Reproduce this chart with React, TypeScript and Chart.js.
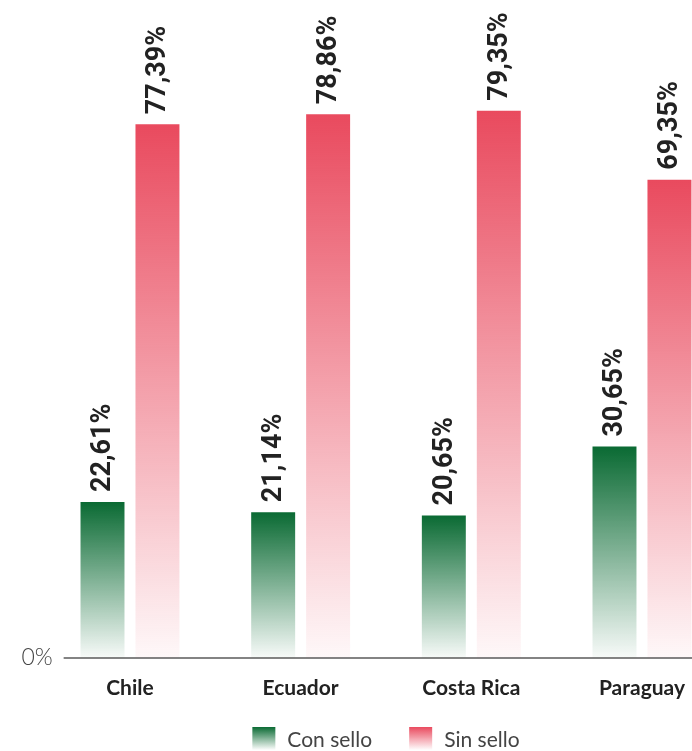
import React, { useEffect, useRef } from "react";
import { Chart, registerables } from "chart.js";

Chart.register(...registerables);

const categories = ["Chile", "Ecuador", "Costa Rica", "Paraguay"];
const conSello = [22.61, 21.14, 20.65, 30.65];
const sinSello = [77.39, 78.86, 79.35, 69.35];
const seriesLabels = ["Con sello", "Sin sello"];
const yTickLabel = "0%";

const GREEN_TOP = "#0a6a33";
const GREEN_BOTTOM = "rgba(10,106,51,0.03)";
const RED_TOP = "#e94a5e";
const RED_BOTTOM = "rgba(233,74,94,0.04)";

const fmt = (v: number) => v.toFixed(2).replace(".", ",") + "%";

function barGradient(top: string, bottom: string) {
  return (ctx: any) => {
    const chart = ctx.chart;
    const y = chart.scales && chart.scales.y;
    if (!y || ctx.raw == null) return top;
    const yTop = y.getPixelForValue(ctx.raw);
    const yBot = y.getPixelForValue(0);
    if (!isFinite(yTop) || !isFinite(yBot)) return top;
    const g = chart.ctx.createLinearGradient(0, yTop, 0, yBot);
    g.addColorStop(0, top);
    g.addColorStop(1, bottom);
    return g;
  };
}

const valueLabelPlugin = {
  id: "valueLabels",
  afterDatasetsDraw(chart: any) {
    const ctx = chart.ctx;
    ctx.save();
    ctx.font = "bold 27px Roboto";
    ctx.fillStyle = "#222";
    ctx.textAlign = "left";
    ctx.textBaseline = "middle";
    chart.data.datasets.forEach((ds: any, di: number) => {
      const meta = chart.getDatasetMeta(di);
      meta.data.forEach((bar: any, i: number) => {
        ctx.save();
        ctx.translate(bar.x, bar.y - 10);
        ctx.rotate(-Math.PI / 2);
        ctx.fillText(fmt(ds.data[i]), 0, 1);
        ctx.restore();
      });
    });
    ctx.restore();
  },
};

const axisLinePlugin = {
  id: "axisLine",
  afterDatasetsDraw(chart: any) {
    const ctx = chart.ctx;
    const y0 = chart.scales.y.getPixelForValue(0);
    ctx.save();
    ctx.strokeStyle = "#5a5a5a";
    ctx.lineWidth = 1.6;
    ctx.beginPath();
    ctx.moveTo(chart.chartArea.left + 19, y0);
    ctx.lineTo(chart.width, y0);
    ctx.stroke();
    // zero tick label
    ctx.font = "300 23px Lato";
    ctx.fillStyle = "#444";
    ctx.textAlign = "right";
    ctx.textBaseline = "middle";
    ctx.fillText(yTickLabel, chart.chartArea.left + 8, y0);
    ctx.restore();
  },
};

const legendPlugin = {
  id: "customLegend",
  afterDraw(chart: any) {
    const ctx = chart.ctx;
    const colors = [
      [GREEN_TOP, "rgba(10,106,51,0.0)"],
      [RED_TOP, "rgba(233,74,94,0.0)"],
    ];
    ctx.save();
    ctx.font = "21px Lato";
    const box = 23;
    const gap = 12;
    const spacing = 37;
    const widths = chart.data.datasets.map((d: any) => ctx.measureText(d.label).width);
    const total =
      widths.reduce((a: number, w: number) => a + box + gap + w, 0) + spacing * (widths.length - 1);
    const cx = (chart.chartArea.left + chart.chartArea.right) / 2;
    let x = cx - total / 2;
    const yBox = 727;
    chart.data.datasets.forEach((d: any, i: number) => {
      const g = ctx.createLinearGradient(0, yBox, 0, yBox + box);
      g.addColorStop(0, colors[i][0]);
      g.addColorStop(1, colors[i][1]);
      ctx.fillStyle = g;
      ctx.fillRect(x, yBox, box, box);
      ctx.fillStyle = "#444";
      ctx.textAlign = "left";
      ctx.textBaseline = "middle";
      ctx.fillText(d.label, x + box + gap, yBox + box / 2 + 2);
      x += box + gap + widths[i] + spacing;
    });
    ctx.restore();
  },
};

export default function App() {
  const ref = useRef<HTMLCanvasElement | null>(null);
  useEffect(() => {
    if (!ref.current) return;
    const chart = new Chart(ref.current, {
      type: "bar",
      data: {
        labels: categories,
        datasets: [
          {
            label: seriesLabels[0],
            data: conSello,
            backgroundColor: barGradient(GREEN_TOP, GREEN_BOTTOM),
            borderWidth: 0,
          },
          {
            label: seriesLabels[1],
            data: sinSello,
            backgroundColor: barGradient(RED_TOP, RED_BOTTOM),
            borderWidth: 0,
          },
        ],
      },
      options: {
        responsive: false,
        devicePixelRatio: 1,
        animation: false,
        datasets: {
          bar: { categoryPercentage: 0.644, barPercentage: 0.8 },
        },
        layout: { padding: { top: 37.3, bottom: 31.8, left: 0, right: 32.7 } },
        plugins: {
          legend: { display: false },
          tooltip: { enabled: false },
        },
        scales: {
          x: {
            offset: true,
            grid: { display: false, drawTicks: false },
            border: { display: false },
            ticks: {
              color: "#222",
              font: { family: "Lato", size: 21, weight: "bold" },
              padding: 18,
              maxRotation: 0,
              autoSkip: false,
            },
          },
          y: {
            min: 0,
            max: 90,
            grid: { display: false, drawTicks: false },
            border: { display: false },
            afterFit: (scale: any) => {
              scale.width = 44.65;
            },
            ticks: {
              display: false,
              stepSize: 90,
            },
          },
        },
      },
      plugins: [axisLinePlugin, valueLabelPlugin, legendPlugin],
    });
    return () => chart.destroy();
  }, []);
  return (
    <div
      style={{
        position: "fixed",
        left: 0,
        top: 0,
        width: 692,
        height: 751,
        overflow: "hidden",
        background: "#fff",
      }}
    >
      <canvas ref={ref} width={760} height={751} style={{ display: "block", width: 760, height: 751 }} />
    </div>
  );
}
